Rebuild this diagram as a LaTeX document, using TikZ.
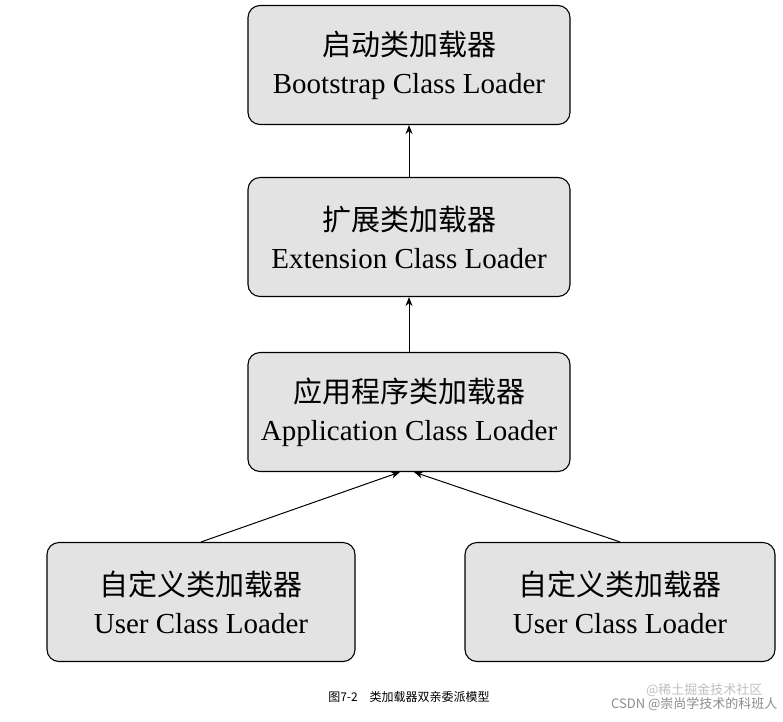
\documentclass[tikz,border=0pt]{standalone}
\usepackage{fontspec}
\setmainfont{Liberation Serif}
\newfontfamily\cjk{Noto Sans CJK SC}
\usetikzlibrary{arrows.meta}
\begin{document}
\begin{tikzpicture}[x=1pt,y=-1pt,
  box/.style={draw=black,line width=1.1pt,fill=black!11,rounded corners=12pt,minimum width=#1,minimum height=119pt,align=center,inner sep=0pt,font=\fontsize{29}{38}\selectfont},
  arr/.style={-{Stealth[length=9pt,width=7pt]},line width=1pt}]
\useasboundingbox (0,0) rectangle (783,721);
\node[box=322pt] (b) at (409,65) {{\cjk 启动类加载器}\\Bootstrap Class Loader};
\node[box=322pt] (e) at (409,237) {{\cjk 扩展类加载器}\\Extension Class Loader};
\node[box=322pt] (a) at (409,412) {{\cjk 应用程序类加载器}\\Application Class Loader};
\node[box=308pt] (u1) at (201,602) {{\cjk 自定义类加载器}\\User Class Loader};
\node[box=310pt] (u2) at (620,602) {{\cjk 自定义类加载器}\\User Class Loader};
\draw[arr] (e.north) -- (b.south);
\draw[arr] (a.north) -- (e.south);
\draw[arr] (u1.north) -- ([xshift=-9pt]a.south);
\draw[arr] (u2.north) -- ([xshift=5pt]a.south);
\node[font=\cjk\fontsize{12}{14}\selectfont] (cap) at (409,697) {图7-2\hspace{12pt}类加载器双亲委派模型};
\node[font=\cjk\fontsize{13}{15}\selectfont,text=black!25,anchor=east] (w1) at (766,690) {@稀土掘金技术社区};
\node[font=\cjk\fontsize{13}{15}\selectfont,text=black!45,anchor=east] (w2) at (781,704) {CSDN @崇尚学技术的科班人};
\end{tikzpicture}
\end{document}
